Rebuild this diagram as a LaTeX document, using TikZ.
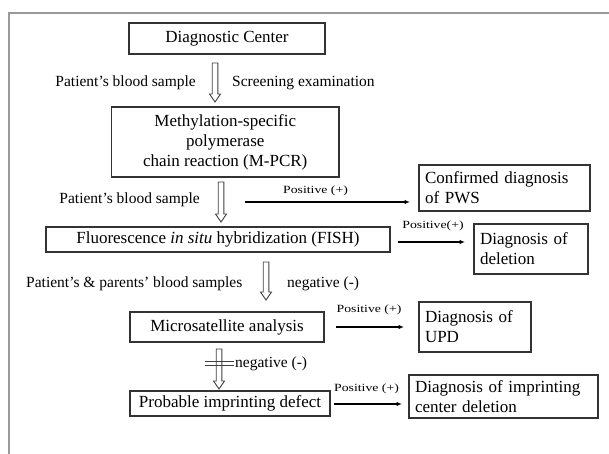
\documentclass[tikz,border=0pt]{standalone}
\usepackage{fontspec}
\setmainfont{Liberation Serif}
\usetikzlibrary{arrows.meta,calc}
\newcommand{\hollowdown}[2]{%
  \draw[line width=0.9pt, black!75, fill=white] let \p1=(#1), \p2=(#2) in
    (\x1-2.8pt,\y1) -- (\x1-2.8pt,\y2+8pt) -- (\x1-5.5pt,\y2+8pt) -- (\x1,\y2)
    -- (\x1+5.5pt,\y2+8pt) -- (\x1+2.8pt,\y2+8pt) -- (\x1+2.8pt,\y1) -- cycle;}
\newcommand{\wide}[1]{\scalebox{1.25}[1]{#1}}
\begin{document}
\begin{tikzpicture}[x=1pt,y=-1pt,
  box/.style={draw=black!80, line width=1.4pt, inner sep=0pt, align=center,
    font=\fontsize{17}{20}\selectfont},
  lbox/.style={box, align=left, inner xsep=6pt},
  lbl/.style={font=\fontsize{15.5}{18}\selectfont, inner sep=0pt},
  poslbl/.style={font=\fontsize{11}{13}\selectfont, inner sep=0pt},
  thinarrow/.style={line width=1.1pt, -{Latex[length=5.5pt,width=4.5pt]}}
]
\useasboundingbox (0,0) rectangle (609,454);
\draw[line width=2.5pt, black!40] (9,460) -- (9,13) -- (615,13);

% boxes
\node[box, minimum width=196, minimum height=31] (dc) at (227,38.5) {Diagnostic Center};
\node[box, minimum width=227.5, minimum height=70] (mpcr) at (225.25,142)
  {Methylation-specific\\polymerase\\chain reaction (M-PCR)};
\node[lbox, minimum height=46, text width=159] (pws) at (504.5,188)
  {Confirmed diagnosis\\of PWS};
\node[box, minimum width=344, minimum height=25] (fish) at (218,239.5)
  {Fluorescence \textit{in situ} hybridization (FISH)};
\node[lbox, minimum height=50, text width=102] (del) at (531,249)
  {Diagnosis of\\deletion};
\node[box, minimum width=194, minimum height=30] (ms) at (227,327)
  {Microsatellite analysis};
\node[lbox, minimum height=50, text width=100] (upd) at (475,327)
  {Diagnosis of\\UPD};
\node[box, minimum width=200, minimum height=25] (pid) at (230,403.5)
  {Probable imprinting defect};
\node[lbox, minimum height=43, text width=177] (icd) at (503.5,396.5)
  {Diagnosis of imprinting\\center deletion};

% hollow arrows
\coordinate (a1s) at (215,63);  \coordinate (a1e) at (215,102);
\coordinate (a2s) at (221,182); \coordinate (a2e) at (221,222);
\coordinate (a3s) at (266,262); \coordinate (a3e) at (266,300);
\coordinate (a4s) at (219,349); \coordinate (a4e) at (219,389);
\hollowdown{a1s}{a1e}
\hollowdown{a2s}{a2e}
\hollowdown{a3s}{a3e}
\hollowdown{a4s}{a4e}
\coordinate (s1a) at (205,361); \coordinate (s1b) at (234,361);
\coordinate (s2a) at (205,365.5); \coordinate (s2b) at (234,365.5);
\draw[line width=0.9pt, black!75] (s1a) -- (s1b);
\draw[line width=0.9pt, black!75] (s2a) -- (s2b);

% thin arrows
\coordinate (p1s) at (245,202); \coordinate (p1e) at (410,202);
\coordinate (p2s) at (398,242); \coordinate (p2e) at (465,242);
\coordinate (p3s) at (336,327); \coordinate (p3e) at (404,327);
\coordinate (p4s) at (334,404); \coordinate (p4e) at (402,404);
\draw[thinarrow] (p1s) -- (p1e);
\draw[thinarrow] (p2s) -- (p2e);
\draw[thinarrow] (p3s) -- (p3e);
\draw[thinarrow] (p4s) -- (p4e);

% labels
\node[lbl, anchor=east] (l1) at (196,83) {Patient’s blood sample};
\node[lbl, anchor=west] (l2) at (232,83) {Screening examination};
\node[lbl, anchor=east] (l3) at (200,200) {Patient’s blood sample};
\node[poslbl] (q1) at (315.5,191) {\wide{Positive (+)}};
\node[poslbl] (q2) at (433,226) {\wide{Positive(+)}};
\node[lbl, anchor=west] (l4) at (26,284) {Patient’s \& parents’ blood samples};
\node[lbl, anchor=west] (l5) at (287,284) {negative (-)};
\node[poslbl] (q3) at (369,310) {\wide{Positive (+)}};
\node[lbl, anchor=west] (l6) at (235,364) {negative (-)};
\node[poslbl] (q4) at (366.5,389) {\wide{Positive (+)}};
\end{tikzpicture}
\end{document}
